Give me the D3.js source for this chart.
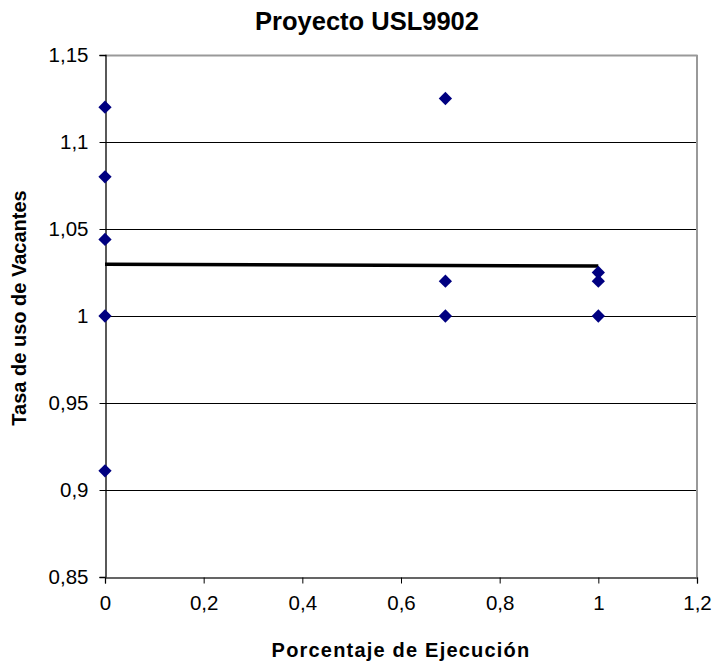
<!DOCTYPE html>
<html>
<head>
<meta charset="utf-8">
<script src="https://cdn.jsdelivr.net/npm/d3@7"></script>
<style>
  html, body { margin: 0; padding: 0; background: #fff; }
  svg { display: block; }
  text { font-family: "Liberation Sans", Arial, sans-serif; fill: #000; }
</style>
</head>
<body>
<svg id="chart" width="718" height="669"></svg>
<script>
// Porcentaje de ejecución (x) vs. tasa de uso de vacantes (y)
const xValues = [0, 0, 0, 0, 0, 0.69, 0.69, 0.69, 1, 1, 1];
const yValues = [1.12, 1.08, 1.044, 1.0, 0.911, 1.125, 1.02, 1.0, 1.025, 1.02, 1.0];

// Linear trend line endpoints
const trendX = [0, 1];
const trendY = [1.0297, 1.0287];

const xTicks = [0, 0.2, 0.4, 0.6, 0.8, 1, 1.2];
const yTicks = [0.85, 0.9, 0.95, 1, 1.05, 1.1, 1.15];

const title = "Proyecto USL9902";
const xTitle = "Porcentaje de Ejecución";
const yTitle = "Tasa de uso de Vacantes";

const svg = d3.select("#chart");
const plotLeft = 105, plotRight = 697, plotTop = 55, plotBottom = 577;

const x = d3.scaleLinear().domain([0, 1.2]).range([plotLeft, plotRight]);
const y = d3.scaleLinear().domain([0.85, 1.15]).range([plotBottom, plotTop]);

const fmt = v => String(+v.toFixed(2)).replace(".", ",");

// Horizontal gridlines
svg.append("g").selectAll("line")
  .data(yTicks.filter(v => v > 0.85 && v < 1.15))
  .join("line")
  .attr("x1", plotLeft).attr("x2", plotRight)
  .attr("y1", d => Math.round(y(d)) + 0.5).attr("y2", d => Math.round(y(d)) + 0.5)
  .attr("stroke", "#000").attr("stroke-width", 1);

// Plot frame (top and right)
svg.append("line")
  .attr("x1", plotLeft).attr("x2", plotRight + 0.5)
  .attr("y1", plotTop + 0.5).attr("y2", plotTop + 0.5)
  .attr("stroke", "#999").attr("stroke-width", 2);
svg.append("line")
  .attr("x1", plotRight).attr("x2", plotRight)
  .attr("y1", plotTop).attr("y2", plotBottom)
  .attr("stroke", "#999").attr("stroke-width", 2);

// Axes
const yAxis = d3.axisLeft(y).tickValues(yTicks).tickFormat(fmt).tickSize(6).tickPadding(11);
const xAxis = d3.axisBottom(x).tickValues(xTicks).tickFormat(fmt).tickSize(6).tickPadding(12);

const gy = svg.append("g").attr("transform", `translate(${plotLeft + 0.5},0)`).call(yAxis);
const gx = svg.append("g").attr("transform", `translate(0,${plotBottom + 0.5})`).call(xAxis);

[gx, gy].forEach(g => {
  g.select(".domain").attr("stroke", "#000").attr("stroke-width", 1.3);
  g.selectAll(".tick line").attr("stroke", "#000");
  g.selectAll(".tick text")
    .attr("font-family", "Liberation Sans, Arial, sans-serif")
    .attr("font-size", 20.5)
    .attr("fill", "#000");
});
gx.select(".domain").attr("stroke", "#333");

// Trend line
svg.append("line")
  .attr("x1", x(trendX[0])).attr("y1", y(trendY[0]))
  .attr("x2", x(trendX[1])).attr("y2", y(trendY[1]))
  .attr("stroke", "#000").attr("stroke-width", 3.5);

// Data points (diamonds)
const diamond = d3.symbol().type(d3.symbolSquare).size(88);
svg.append("g").selectAll("path")
  .data(xValues.map((v, i) => [v, yValues[i]]))
  .join("path")
  .attr("d", diamond)
  .attr("transform", d => `translate(${x(d[0])},${y(d[1])}) rotate(45)`)
  .attr("fill", "#000080");

// Titles
svg.append("text")
  .attr("x", 367).attr("y", 30)
  .attr("text-anchor", "middle")
  .attr("font-size", 25.5).attr("font-weight", "bold")
  .text(title);

svg.append("text")
  .attr("x", 401).attr("y", 657)
  .attr("text-anchor", "middle")
  .attr("font-size", 20).attr("font-weight", "bold")
  .attr("letter-spacing", 1.2)
  .text(xTitle);

svg.append("text")
  .attr("transform", "translate(26,308) rotate(-90)")
  .attr("text-anchor", "middle")
  .attr("font-size", 20).attr("font-weight", "bold")
  .text(yTitle);
</script>
</body>
</html>
